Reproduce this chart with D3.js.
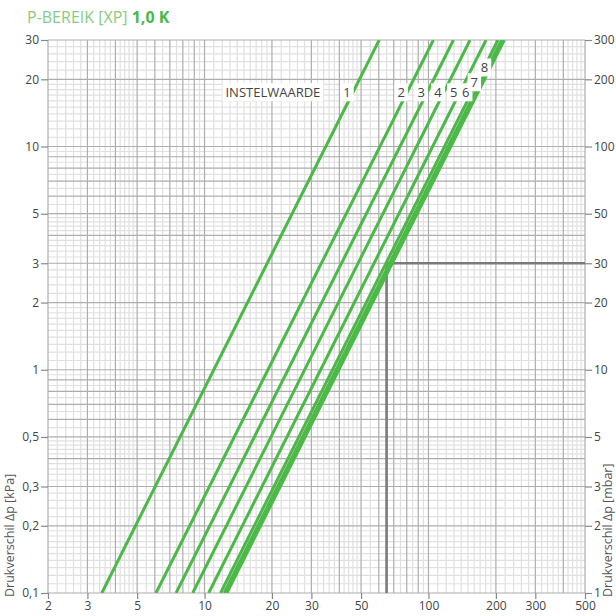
<!DOCTYPE html>
<html><head><meta charset="utf-8">
<script src="https://cdn.jsdelivr.net/npm/d3@7"></script>
<style>
html,body{margin:0;padding:0;background:#fff;}
svg{display:block;font-family:"Open Sans","Noto Sans",sans-serif;}
</style></head>
<body><svg id="c" width="616" height="616"></svg>
<script>
// Data
const settings = ["1","2","3","4","5","6","7","8"];
const kvValues = [11.0, 19.2, 23.6, 28.0, 33.0, 37.3, 38.7, 39.8]; // flow [l/h] at 1 kPa
const labelDp = [17.5, 17.5, 17.5, 17.5, 17.5, 17.5, 19.4, 22.6];
const xTicks = [2,3,5,10,20,30,50,100,200,300,500];
const yTicksKPa = [0.1,0.2,0.3,0.5,1,2,3,5,10,20,30];
const yTickLabelsKPa = ["0,1","0,2","0,3","0,5","1","2","3","5","10","20","30"];
const yTickLabelsMbar = ["1","2","3","5","10","20","30","50","100","200","300"];
const refFlow = 65, refDp = 3;

const svg = d3.select("#c");
const L=48, R=585, T=40, B=593;
const x = d3.scaleLog().domain([2,500]).range([L,R]);
const y = d3.scaleLog().domain([0.1,30]).range([B,T]);

// grid values
function gridVals(lo, hi){
  const light=[], dark=[];
  for(let k=-2;k<=3;k++){
    const p=Math.pow(10,k);
    for(let d=1; d<10; d++){
      const v=d*p;
      if(v>=lo*0.999 && v<=hi*1.001) dark.push(v);
      let step = d<2?0.1:(d<5?0.2:0.5);
      for(let s=d+step; s<d+1-1e-9; s+=step){
        const w=+(s*p).toPrecision(6);
        if(w>=lo && w<=hi) light.push(w);
      }
    }
  }
  return {light,dark};
}
const gx=gridVals(2,500), gy=gridVals(0.1,30);
const g=svg.append("g");
g.selectAll(".lx").data(gx.light).join("line").attr("x1",d=>x(d)).attr("x2",d=>x(d)).attr("y1",T).attr("y2",B).attr("stroke","#e0e0e0").attr("stroke-width",1.2);
g.selectAll(".ly").data(gy.light).join("line").attr("y1",d=>y(d)).attr("y2",d=>y(d)).attr("x1",L).attr("x2",R).attr("stroke","#e0e0e0").attr("stroke-width",1.2);
g.selectAll(".dx").data(gx.dark).join("line").attr("x1",d=>x(d)).attr("x2",d=>x(d)).attr("y1",T).attr("y2",B).attr("stroke","#adadad").attr("stroke-width",1.2);
g.selectAll(".dy").data(gy.dark).join("line").attr("y1",d=>y(d)).attr("y2",d=>y(d)).attr("x1",L).attr("x2",R).attr("stroke","#adadad").attr("stroke-width",1.2);

// axes
const tickCol="#888", txtCol="#444";
const ax = svg.append("g").attr("transform",`translate(0,${B})`).call(d3.axisBottom(x).tickValues(xTicks).tickFormat(d=>d).tickSize(6).tickSizeOuter(0));
const ayl = svg.append("g").attr("transform",`translate(${L},0)`).call(d3.axisLeft(y).tickValues(yTicksKPa).tickFormat((d,i)=>yTickLabelsKPa[i]).tickSize(7).tickSizeOuter(0));
const ayr = svg.append("g").attr("transform",`translate(${R},0)`).call(d3.axisRight(y).tickValues(yTicksKPa).tickFormat((d,i)=>yTickLabelsMbar[i]).tickSize(7).tickSizeOuter(0));
[ax,ayl,ayr].forEach(a=>{
  a.select(".domain").remove();
  a.selectAll("line").attr("stroke",tickCol).attr("stroke-width",1.2);
  a.selectAll("text").attr("fill",txtCol).attr("font-size",12).attr("font-family","'Open Sans',sans-serif");
});
ax.selectAll("text").attr("dy","0.9em").attr("y",6);
ayl.selectAll("text").attr("x",-9);
ayr.selectAll("text").attr("x",9);

// clip
svg.append("clipPath").attr("id","clip").append("rect").attr("x",L).attr("y",T).attr("width",R-L).attr("height",B-T);

// reference lines
const refG = svg.append("g");
refG.append("line").attr("x1",x(refFlow)).attr("x2",x(500)).attr("y1",y(refDp)).attr("y2",y(refDp)).attr("stroke","#7a7a7a").attr("stroke-width",2.6);
refG.append("line").attr("x1",x(refFlow)).attr("x2",x(refFlow)).attr("y1",y(refDp)-1.3).attr("y2",y(0.1)).attr("stroke","#7a7a7a").attr("stroke-width",2.6);

// curves
const lg = svg.append("g").attr("clip-path","url(#clip)");
const line = d3.line().x(d=>x(d[0])).y(d=>y(d[1]));
lg.selectAll("path.c").data(kvValues).join("path").attr("class","c")
  .attr("d",kv=>line([0.1,30].map(dp=>[kv*Math.sqrt(dp),dp])))
  .attr("fill","none").attr("stroke","#4cb848").attr("stroke-width",3);

// labels
function boxed(parent, tx, ty, text, anchor){
  const gg=parent.append("g");
  const r=gg.append("rect").attr("fill","#fff");
  const t=gg.append("text").attr("x",tx).attr("y",ty).attr("text-anchor",anchor).attr("fill","#444")
    .attr("font-size",13).attr("font-family","'Open Sans',sans-serif").attr("dominant-baseline","central").text(text);
  const bb=t.node().getBBox();
  r.attr("x",bb.x-3).attr("y",bb.y).attr("width",bb.width+6).attr("height",bb.height);
}
const labG=svg.append("g");
kvValues.forEach((kv,i)=>{
  const dp=labelDp[i];
  boxed(labG, x(kv*Math.sqrt(dp))-6, y(dp), settings[i], "middle");
});
boxed(labG, x(20.2), y(17.5), "INSTELWAARDE", "middle");

// axis titles
svg.append("text").attr("transform",`translate(14,597) rotate(-90)`).attr("fill","#555").attr("font-size",12.5)
  .attr("text-anchor","start").text("Drukverschil Δp [kPa]");
svg.append("text").attr("transform",`translate(612,597) rotate(-90)`).attr("fill","#555").attr("font-size",12.5)
  .attr("text-anchor","start").text("Drukverschil Δp [mbar]");

// title
const title=svg.append("text").attr("x",27).attr("y",23).attr("font-size",16);
title.append("tspan").attr("fill","#86cc82").attr("font-weight",400).text("P-BEREIK [XP] ");
title.append("tspan").attr("fill","#4cb848").attr("font-weight",700).text("1,0 K");
</script></body></html>
